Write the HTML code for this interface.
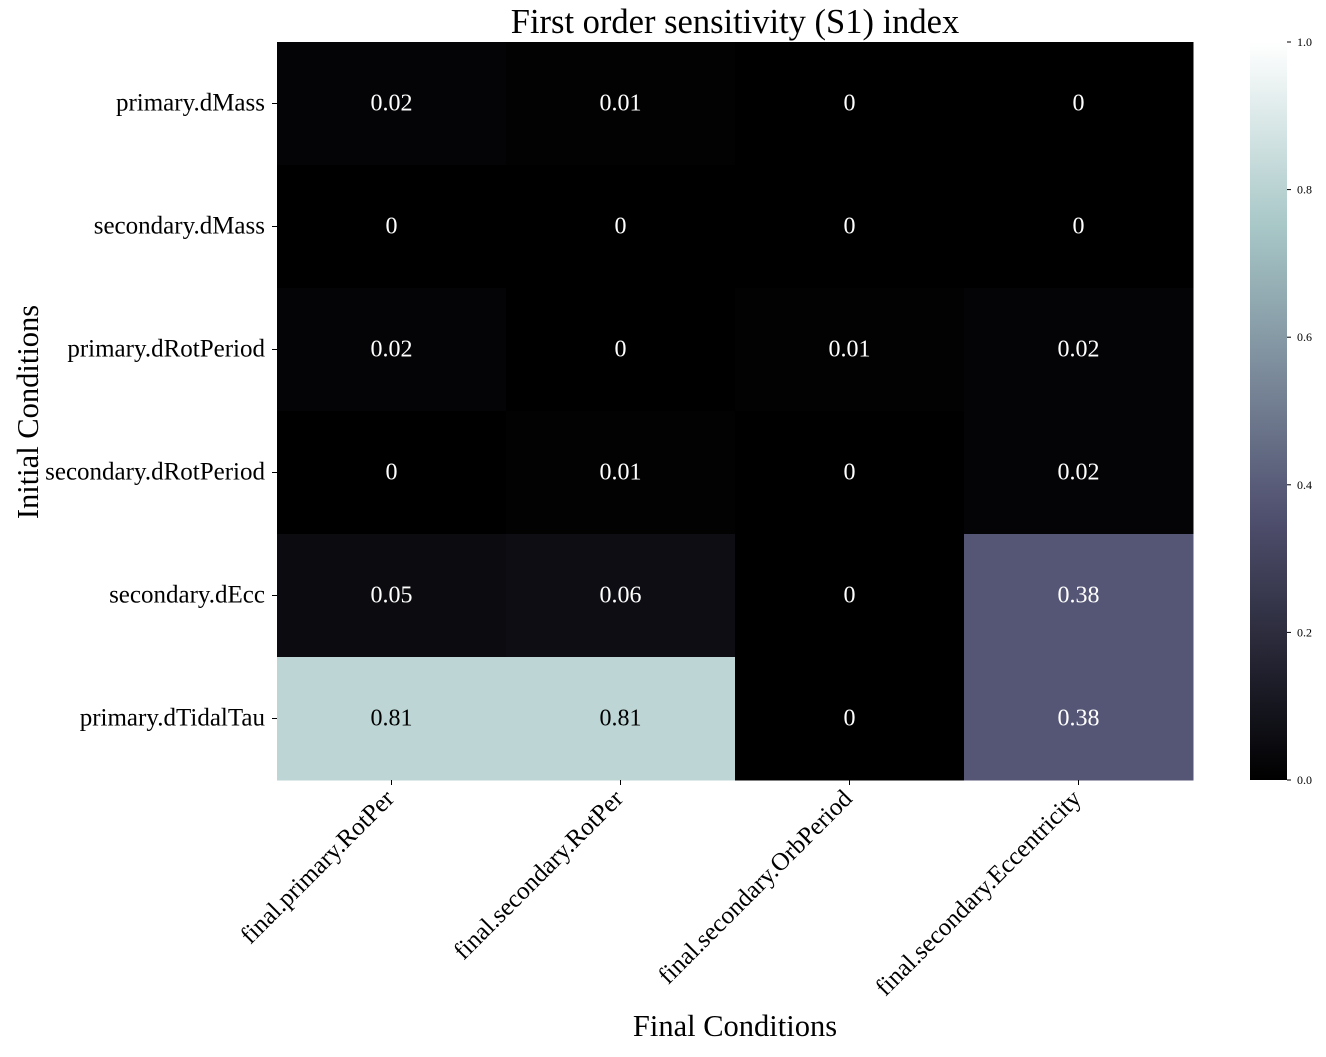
<!DOCTYPE html>
<html><head><meta charset="utf-8"><style>
body{margin:0;background:#fff;}
svg text{font-family:"Liberation Serif",serif;}
</style></head><body>
<svg id="chart" width="1326" height="1052" xmlns="http://www.w3.org/2000/svg">
<text x="735" y="33" font-size="34.5" text-anchor="middle">First order sensitivity (S1) index</text>
<g id="cells"></g>
<g id="ylabels"></g>
<g id="xlabels"></g>
<text x="735" y="1036" font-size="30.5" text-anchor="middle">Final Conditions</text>
<text transform="translate(38,412) rotate(-90)" font-size="30.5" text-anchor="middle">Initial Conditions</text>
<defs><linearGradient id="cbg" x1="0" y1="1" x2="0" y2="0"></linearGradient></defs>
<rect x="1250" y="42" width="37" height="738" fill="url(#cbg)"/>
<g id="cbticks"></g>
</svg>
<script>
const rows=["primary.dMass","secondary.dMass","primary.dRotPeriod","secondary.dRotPeriod","secondary.dEcc","primary.dTidalTau"];
const cols=["final.primary.RotPer","final.secondary.RotPer","final.secondary.OrbPeriod","final.secondary.Eccentricity"];
const values=[
[0.02,0.01,0,0],
[0,0,0,0],
[0.02,0,0.01,0.02],
[0,0.01,0,0.02],
[0.05,0.06,0,0.38],
[0.81,0.81,0,0.38]];
const cbTicks=[0,0.2,0.4,0.6,0.8,1.0];
const X0=277,X1=1193,Y0=42,Y1=780;
const cw=(X1-X0)/cols.length, ch=(Y1-Y0)/rows.length;
const xPos=i=>X0+i*cw, yPos=j=>Y0+j*ch;
function seg(v,pts){for(let i=1;i<pts.length;i++){if(v<=pts[i][0]){const a=pts[i-1],b=pts[i];return a[1]+(v-a[0])/(b[0]-a[0])*(b[1]-a[1]);}}return 1;}
function bone(v){v=Math.max(0,Math.min(1,v));
const r=seg(v,[[0,0],[0.746032,0.652778],[1,1]]);
const g=seg(v,[[0,0],[0.365079,0.319444],[0.746032,0.777778],[1,1]]);
const b=seg(v,[[0,0],[0.365079,0.444444],[1,1]]);
return `rgb(${Math.round(r*255)},${Math.round(g*255)},${Math.round(b*255)})`;}
const NS="http://www.w3.org/2000/svg";
const mk=(t,a)=>{const e=document.createElementNS(NS,t);for(const k in a)e.setAttribute(k,a[k]);return e;};
const cells=document.getElementById('cells');
values.forEach((row,j)=>row.forEach((v,i)=>{
 const r=mk('rect',{x:xPos(i),y:yPos(j),width:cw+0.5,height:ch+0.5,fill:bone(v)});
 
 
 cells.appendChild(r);
 const t=mk('text',{x:xPos(i)+cw/2,y:yPos(j)+ch/2+7,'font-size':24,'text-anchor':'middle',fill:v>0.5?'#000':'#fff'});
 t.textContent=String(v);
 
 
 cells.appendChild(t);
}));
const yl=document.getElementById('ylabels');
rows.forEach((n,j)=>{
 const y=yPos(j)+ch/2;
 const tk=mk('line',{x1:272,x2:277,y1:y,y2:y,stroke:'#000'});
 
 
 yl.appendChild(tk);
 const t=mk('text',{x:265,y:y+7,'font-size':25,'text-anchor':'end'});
 t.textContent=n;
 
 
 yl.appendChild(t);
});
const xl=document.getElementById('xlabels');
cols.forEach((n,i)=>{
 const x=xPos(i)+cw/2;
 const tk=mk('line',{x1:x,x2:x,y1:780,y2:785,stroke:'#000'});
 
 
 xl.appendChild(tk);
 const t=mk('text',{transform:`translate(${x+4},${800}) rotate(-45)`,'font-size':25,'text-anchor':'end'});
 t.textContent=n;
 
 
 xl.appendChild(t);
});
const grad=document.getElementById('cbg');
for(let k=0;k<=20;k++){const s=mk('stop',{offset:k/20,'stop-color':bone(k/20)});grad.appendChild(s);}
const cb=document.getElementById('cbticks');
cbTicks.forEach(v=>{
 const y=Y1-v*(Y1-Y0);
 const tk=mk('line',{x1:1287,x2:1291,y1:y,y2:y,stroke:'#000'});
 
 
 cb.appendChild(tk);
 const t=mk('text',{x:1297,y:y+4,'font-size':12});
 t.textContent=v.toFixed(1);
 
 
 cb.appendChild(t);
});
</script>
</body></html>
